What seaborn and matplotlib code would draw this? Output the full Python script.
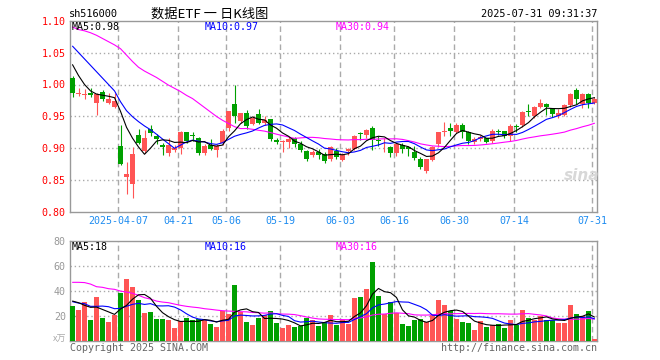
import numpy as np
import pandas as pd
import matplotlib
matplotlib.use("Agg")
import matplotlib.pyplot as plt
import seaborn as sns

# daily candles, 2025-03-25 .. 2025-07-31 (88 trading days)
opens = [1.010, 0.985, 0.983, 0.986, 0.971, 0.988, 0.971, 0.965, 0.904, 0.855,
         0.844, 0.921, 0.896, 0.931, 0.919, 0.905, 0.893, 0.898, 0.901, 0.925,
         0.921, 0.917, 0.893, 0.905, 0.898, 0.908, 0.932, 0.969, 0.943, 0.955,
         0.938, 0.954, 0.939, 0.946, 0.913, 0.910, 0.910, 0.916, 0.907, 0.896,
         0.889, 0.895, 0.892, 0.883, 0.896, 0.882, 0.896, 0.899, 0.924, 0.921,
         0.932, 0.913, 0.914, 0.902, 0.893, 0.905, 0.902, 0.895, 0.884, 0.865,
         0.882, 0.907, 0.925, 0.932, 0.926, 0.937, 0.925, 0.910, 0.914, 0.916,
         0.912, 0.927, 0.927, 0.920, 0.935, 0.937, 0.959, 0.950, 0.965, 0.969,
         0.964, 0.951, 0.953, 0.968, 0.992, 0.970, 0.985, 0.971]
highs = [1.013, 0.994, 0.993, 0.995, 0.986, 0.992, 0.986, 0.987, 0.937, 0.879,
         0.902, 0.931, 0.929, 0.937, 0.922, 0.909, 0.916, 0.905, 0.927, 0.926,
         0.926, 0.918, 0.907, 0.914, 0.907, 0.930, 0.959, 1.000, 0.956, 0.960,
         0.950, 0.962, 0.950, 0.946, 0.916, 0.913, 0.918, 0.918, 0.911, 0.897,
         0.897, 0.899, 0.895, 0.903, 0.900, 0.893, 0.900, 0.921, 0.926, 0.930,
         0.935, 0.919, 0.917, 0.904, 0.909, 0.909, 0.904, 0.904, 0.886, 0.884,
         0.903, 0.925, 0.941, 0.940, 0.939, 0.939, 0.927, 0.918, 0.921, 0.917,
         0.930, 0.931, 0.927, 0.938, 0.938, 0.959, 0.969, 0.966, 0.977, 0.971,
         0.964, 0.961, 0.969, 0.986, 0.995, 0.986, 0.986, 0.980]
lows = [0.981, 0.982, 0.977, 0.980, 0.953, 0.974, 0.969, 0.964, 0.874, 0.829,
        0.823, 0.907, 0.893, 0.920, 0.907, 0.889, 0.888, 0.895, 0.892, 0.909,
        0.912, 0.889, 0.889, 0.897, 0.887, 0.905, 0.928, 0.940, 0.939, 0.930,
        0.937, 0.938, 0.937, 0.912, 0.907, 0.895, 0.900, 0.902, 0.895, 0.881,
        0.886, 0.883, 0.877, 0.881, 0.883, 0.880, 0.890, 0.897, 0.913, 0.916,
        0.898, 0.903, 0.895, 0.887, 0.888, 0.893, 0.888, 0.882, 0.867, 0.861,
        0.881, 0.902, 0.920, 0.920, 0.924, 0.917, 0.907, 0.907, 0.911, 0.909,
        0.909, 0.921, 0.916, 0.912, 0.926, 0.934, 0.950, 0.947, 0.963, 0.952,
        0.949, 0.947, 0.951, 0.965, 0.970, 0.963, 0.963, 0.969]
closes = [0.986, 0.986, 0.985, 0.983, 0.985, 0.977, 0.978, 0.974, 0.876, 0.860,
          0.892, 0.909, 0.917, 0.924, 0.915, 0.902, 0.905, 0.901, 0.926, 0.911,
          0.919, 0.893, 0.904, 0.899, 0.903, 0.927, 0.958, 0.950, 0.955, 0.935,
          0.948, 0.940, 0.945, 0.915, 0.910, 0.911, 0.914, 0.907, 0.898, 0.883,
          0.895, 0.890, 0.881, 0.902, 0.887, 0.890, 0.899, 0.920, 0.922, 0.929,
          0.913, 0.911, 0.915, 0.893, 0.907, 0.899, 0.899, 0.885, 0.871, 0.883,
          0.902, 0.925, 0.927, 0.927, 0.936, 0.926, 0.911, 0.914, 0.918, 0.910,
          0.927, 0.925, 0.920, 0.935, 0.933, 0.957, 0.957, 0.965, 0.971, 0.965,
          0.954, 0.956, 0.968, 0.985, 0.978, 0.985, 0.971, 0.978]
volumes = [27.7, 24.5, 30.9, 16.5, 34.9, 18.1, 14.9, 20.8, 38.1, 49.3,
           42.9, 32.5, 22.1, 22.9, 17.3, 17.3, 16.5, 10.1, 15.7, 18.1,
           16.5, 17.3, 16.5, 13.3, 10.9, 23.7, 21.3, 44.5, 22.9, 14.9,
           12.5, 18.1, 20.5, 23.7, 14.1, 10.1, 12.5, 10.9, 11.7, 18.1,
           16.5, 11.7, 14.9, 20.5, 12.5, 16.5, 13.3, 34.1, 34.9, 41.3,
           62.9, 35.7, 21.3, 30.9, 22.1, 13.3, 11.7, 16.5, 17.3, 14.9,
           20.5, 32.5, 28.5, 23.7, 17.3, 14.9, 14.1, 8.5, 15.7, 10.9,
           12.5, 13.3, 10.1, 16.5, 12.5, 24.5, 18.1, 16.5, 19.7, 16.5,
           16.5, 14.1, 14.1, 28.5, 21.3, 19.7, 23.7, 1.3]

# moving-average values before enough history is on screen
ma5_head = [1.031, 1.014, 1.000, 0.990]
ma10_head = [1.060, 1.050, 1.040, 1.030, 1.020, 1.010, 1.000, 0.990, 0.973]
ma30_head = [1.090, 1.086, 1.084, 1.081, 1.077, 1.072, 1.067, 1.062, 1.056, 1.046,
             1.036, 1.027, 1.021, 1.016, 1.011, 1.005, 0.999, 0.994, 0.989, 0.983,
             0.978, 0.971, 0.964, 0.957, 0.950, 0.944, 0.939, 0.934, 0.931]
vma5_head = [31.7, 30.4, 28.3, 26.7]
vma10_head = [31.2, 30.1, 29.6, 27.5, 27.5, 27.7, 27.2, 25.6, 25.9]
vma30_head = [46.7, 46.7, 46.5, 45.3, 43.2, 42.7, 41.6, 41.1, 39.7, 38.9,
              37.9, 36.3, 34.4, 33.3, 31.7, 30.9, 30.4, 29.3, 28.3, 27.5,
              26.9, 26.4, 25.6, 25.1, 24.5, 24.0, 23.7, 23.5, 23.2]

tick_idx = [8, 18, 26, 35, 45, 54, 64, 74, 87]
tick_labels = ["2025-04-07", "04-21", "05-06", "05-19", "06-03",
               "06-16", "06-30", "07-14", "07-31"]
price_ticks = [0.80, 0.85, 0.90, 0.95, 1.00, 1.05, 1.10]
vol_ticks = [20, 40, 60, 80]

RED = "#ff5555"
GREEN = "#00a000"
GRID = "#aaaaaa"
MONO = "DejaVu Sans Mono"
LW = 0.8

df = pd.DataFrame({"open": opens, "high": highs, "low": lows,
                   "close": closes, "vol": volumes})
df["i"] = np.arange(len(df))
df["up"] = df["close"] >= df["open"]


def moving(s, n, head):
    m = s.rolling(n).mean()
    m.iloc[:n - 1] = head
    return m


df["ma5"] = moving(df["close"], 5, ma5_head)
df["ma10"] = moving(df["close"], 10, ma10_head)
df["ma30"] = moving(df["close"], 30, ma30_head)
df["vma5"] = moving(df["vol"], 5, vma5_head)
df["vma10"] = moving(df["vol"], 10, vma10_head)
df["vma30"] = moving(df["vol"], 30, vma30_head)

sns.set_style("white")
plt.rcParams["font.family"] = [MONO, "DejaVu Sans"]

W, H = 660, 360
fig = plt.figure(figsize=(W / 100, H / 100), dpi=100)


def frac(x, y):
    return x / W, 1 - y / H


ax = fig.add_axes([70 / W, 1 - 212.3 / H, 527 / W, (212.3 - 20.6) / H])
axv = fig.add_axes([70 / W, 1 - 340.7 / H, 527 / W, 100 / H])

colors = np.where(df["up"], RED, GREEN)

# candles
ax.vlines(df["i"], df["low"], df["high"], colors=colors, lw=0.8, zorder=3)
body_lo = np.minimum(df["open"], df["close"])
body_h = np.maximum((df["close"] - df["open"]).abs(), 0.0012)
ax.bar(df["i"], body_h, bottom=body_lo, width=0.8, color=colors,
       linewidth=0, zorder=4)

sns.lineplot(x=df["i"], y=df["ma30"], color="#ff00ff", lw=LW, ax=ax, zorder=5)
sns.lineplot(x=df["i"], y=df["ma10"], color="#0000ff", lw=LW, ax=ax, zorder=5)
sns.lineplot(x=df["i"], y=df["ma5"], color="black", lw=LW, ax=ax, zorder=5)

# volume
axv.bar(df["i"], df["vol"], width=0.8, color=colors, linewidth=0, zorder=3)
sns.lineplot(x=df["i"], y=df["vma30"], color="#ff00ff", lw=LW, ax=axv, zorder=5)
sns.lineplot(x=df["i"], y=df["vma10"], color="#0000ff", lw=LW, ax=axv, zorder=5)
sns.lineplot(x=df["i"], y=df["vma5"], color="black", lw=LW, ax=axv, zorder=5)

grid_x = [t - 0.35 for t in tick_idx]
for a in (ax, axv):
    a.set_xlim(-0.42, 87.42)
    for gx in grid_x:
        a.axvline(gx, color=GRID, lw=1.0, ls=(0, (4, 2.5)), zorder=1)
    for s in a.spines.values():
        s.set_color("#999999")
        s.set_linewidth(1.0)
    a.set_xlabel("")
    a.set_ylabel("")
    a.tick_params(length=0)

ax.set_ylim(0.80, 1.10)
for gy in price_ticks[1:-1]:
    ax.axhline(gy, color=GRID, lw=1.0, ls=(0, (1, 2)), zorder=1)
ax.set_yticks(price_ticks)
ax.set_yticklabels([f"{v:.2f}" for v in price_ticks], color="red",
                   fontsize=7.2, family=MONO)
ax.tick_params(axis="y", pad=3)
ax.set_xticks(grid_x)
ax.set_xticklabels(tick_labels, color="#1e8cf0", fontsize=7.2, family=MONO)
ax.tick_params(axis="x", pad=3)

axv.set_ylim(0, 80)
for gy in vol_ticks[:-1]:
    axv.axhline(gy, color=GRID, lw=1.0, ls=(0, (1, 2)), zorder=1)
axv.set_yticks(vol_ticks)
axv.set_yticklabels([str(v) for v in vol_ticks], color="#999999",
                    fontsize=7.2, family=MONO)
axv.tick_params(axis="y", pad=3)
axv.set_xticks([])

# labels
lab = dict(fontsize=7.2, family=MONO, va="center", ha="left")
fig.text(*frac(72, 27), "MA5:0.98", color="black", **lab)
fig.text(*frac(205, 27), "MA10:0.97", color="#0000ff", **lab)
fig.text(*frac(336, 27), "MA30:0.94", color="#ff00ff", **lab)
fig.text(*frac(72, 247), "MA5:18", color="black", **lab)
fig.text(*frac(205, 247), "MA10:16", color="#0000ff", **lab)
fig.text(*frac(336, 247), "MA30:16", color="#ff00ff", **lab)

fig.text(*frac(69, 14), "sh516000", color="black", fontsize=7.4, family=MONO,
         va="center", ha="left")
fig.text(*frac(210, 14), "数据ETF 一 日K线图", color="black", fontsize=9.5,
         family=["Noto Sans CJK SC", "DejaVu Sans"], va="center", ha="center")
fig.text(*frac(597, 14), "2025-07-31 09:31:37", color="black", fontsize=7.4,
         family=MONO, va="center", ha="right")

fig.text(*frac(66, 339), "x万", color="#aaaaaa", fontsize=6.5,
         family=["Noto Sans CJK SC", "DejaVu Sans"], va="center", ha="right")
fig.text(*frac(70, 348), "Copyright 2025 SINA.COM", color="#666666",
         fontsize=7.2, family=MONO, va="center", ha="left")
fig.text(*frac(597, 348), "http://finance.sina.com.cn", color="#666666",
         fontsize=7.2, family=MONO, va="center", ha="right")
fig.text(*frac(582, 176), "sina", color="#d8d8d8", fontsize=11,
         fontweight="bold", style="italic", family="DejaVu Sans",
         va="center", ha="center")

fig.savefig("out.png", dpi=100)
